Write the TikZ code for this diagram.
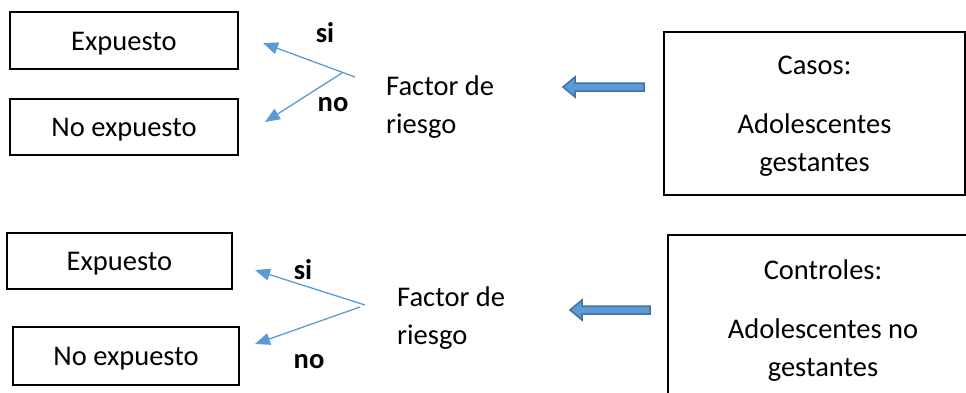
\documentclass[tikz,border=0pt]{standalone}
\usepackage{fontspec}
\setmainfont{Carlito}
\usetikzlibrary{arrows.meta}
\definecolor{lblue}{HTML}{5B9BD5}
\definecolor{dblue}{HTML}{41719C}
\tikzset{
  txt/.style={font=\fontsize{28.5}{38}\selectfont, inner sep=0pt, align=center, yshift=-3pt},
  box/.style={draw=black, line width=2pt, inner sep=0pt},
  lbl/.style={txt, font=\fontsize{28.5}{38}\selectfont\bfseries},
  thin/.style={draw=lblue, line width=1.3pt, -{Triangle[length=15pt,width=12pt]}, color=lblue},
  blockarrow/.style={fill=lblue, draw=dblue, line width=1.5pt, line join=miter}
}
\begin{document}
\begin{tikzpicture}[x=1pt,y=-1pt]
\useasboundingbox (0,0) rectangle (966,392);
% ---- top group ----
\node[box, minimum width=228, minimum height=57] (e1) at (124,40.5) {};
\node[txt] (e1t) at (e1.center) {Expuesto};
\node[box, minimum width=228, minimum height=56] (n1) at (124,127) {};
\node[txt] (n1t) at (n1.center) {No expuesto};
\node[txt, align=left, anchor=west] (f1) at (386,104) {Factor de\\riesgo};
\node[box, minimum width=301, minimum height=163] (c1) at (814.5,113.5) {};
\node[txt] (c1t) at (c1.center) {Casos:\\[21pt]Adolescentes\\gestantes};
\node[lbl] (si1) at (325,30) {si};
\node[lbl] (no1) at (333,102) {no};
\coordinate (j1) at (355,77);
\coordinate (j1b) at (342,73);
\coordinate (t1s) at (263,43);
\coordinate (t1n) at (265,122);
\draw[thin] (j1) -- (t1s);
\draw[thin] (j1b) -- (t1n);
\coordinate (b1tail) at (644,87);
\coordinate (b1tip) at (563,87);
\draw[blockarrow] (b1tail) ++(0,-4) -- (575,83) -- (575,77) -- (b1tip) -- (575,97) -- (575,91) -- (644,91) -- cycle;
% ---- bottom group ----
\node[box, minimum width=225, minimum height=56] (e2) at (119.5,261) {};
\node[txt] (e2t) at (e2.center) {Expuesto};
\node[box, minimum width=226, minimum height=58] (n2) at (126,356) {};
\node[txt] (n2t) at (n2.center) {No expuesto};
\node[txt, align=left, anchor=west] (f2) at (397,315) {Factor de\\riesgo};
\node[box, minimum width=310, minimum height=166] (c2) at (823,318) {};
\node[txt] (c2t) at (c2.center) {Controles:\\[21pt]Adolescentes no\\gestantes};
\node[lbl] (si2) at (303,267) {si};
\node[lbl] (no2) at (309,359) {no};
\coordinate (j2) at (365,305);
\coordinate (j2b) at (360,307);
\coordinate (t2s) at (255,270);
\coordinate (t2n) at (255,344);
\draw[thin] (j2) -- (t2s);
\draw[thin] (j2b) -- (t2n);
\coordinate (b2tail) at (650,310);
\coordinate (b2tip) at (570,310);
\draw[blockarrow] (b2tail) ++(0,-4) -- (582,306) -- (582,300) -- (b2tip) -- (582,320) -- (582,314) -- (650,314) -- cycle;
\end{tikzpicture}
\end{document}
